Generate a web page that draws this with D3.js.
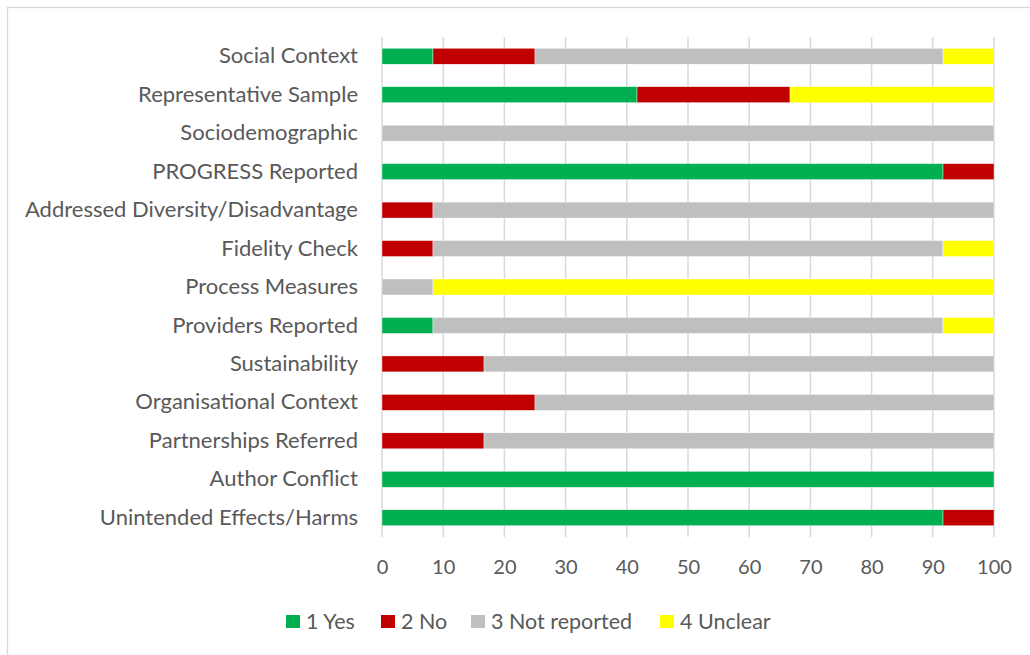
<!DOCTYPE html>
<html>
<head>
<meta charset="utf-8">
<script src="https://cdn.jsdelivr.net/npm/d3@7"></script>
<style>
  html, body { margin: 0; padding: 0; background: #fff; }
  svg { display: block; }
  text { font-family: Lato, "Open Sans", "Liberation Sans", sans-serif; fill: #595959; }
</style>
</head>
<body>
<svg id="chart" width="1030" height="655"></svg>
<script>
const categories = [
  "Social Context",
  "Representative Sample",
  "Sociodemographic",
  "PROGRESS Reported",
  "Addressed Diversity/Disadvantage",
  "Fidelity Check",
  "Process Measures",
  "Providers Reported",
  "Sustainability",
  "Organisational Context",
  "Partnerships Referred",
  "Author Conflict",
  "Unintended Effects/Harms"
];
const seriesNames = ["1 Yes", "2 No", "3 Not reported", "4 Unclear"];
const seriesColors = ["#00B050", "#C00000", "#BFBFBF", "#FFFF00"];
const yesValues         = [8.33, 41.67, 0, 91.67, 0, 0, 0, 8.33, 0, 0, 0, 100, 91.67];
const noValues          = [16.67, 25, 0, 8.33, 8.33, 8.33, 0, 0, 16.67, 25, 16.67, 0, 8.33];
const notReportedValues = [66.67, 0, 100, 0, 91.67, 83.33, 8.33, 83.33, 83.33, 75, 83.33, 0, 0];
const unclearValues     = [8.33, 33.33, 0, 0, 0, 8.33, 91.67, 8.33, 0, 0, 0, 0, 0];
const xTicks = [0, 10, 20, 30, 40, 50, 60, 70, 80, 90, 100];

const svg = d3.select("#chart");

// outer chart border
svg.append("rect")
  .attr("x", 7.5).attr("y", 7.5)
  .attr("width", 1040).attr("height", 660)
  .attr("fill", "#fff").attr("stroke", "#D9D9D9").attr("stroke-width", 1.3);

const plot = { left: 382, right: 994, top: 37, bottom: 537 };

const x = d3.scaleLinear().domain([0, 100]).range([plot.left, plot.right]);
const y = d3.scaleBand().domain(categories).range([plot.top, plot.bottom])
  .paddingInner(0.585).paddingOuter(0.2925);

// gridlines
svg.append("g").selectAll("line").data(xTicks).join("line")
  .attr("x1", d => x(d)).attr("x2", d => x(d))
  .attr("y1", plot.top).attr("y2", plot.bottom)
  .attr("stroke", "#D9D9D9").attr("stroke-width", 1.5);

// stacked data
const rows = categories.map((c, i) => ({
  cat: c,
  "1 Yes": yesValues[i],
  "2 No": noValues[i],
  "3 Not reported": notReportedValues[i],
  "4 Unclear": unclearValues[i]
}));
const stack = d3.stack().keys(seriesNames)(rows);
const color = d3.scaleOrdinal().domain(seriesNames).range(seriesColors);

svg.append("g").selectAll("g").data(stack).join("g")
  .attr("fill", d => color(d.key))
  .selectAll("rect").data(d => d.filter(s => s[1] - s[0] > 0)).join("rect")
  .attr("x", d => x(d[0]))
  .attr("width", d => x(d[1]) - x(d[0]))
  .attr("y", d => y(d.data.cat))
  .attr("height", y.bandwidth())
  .attr("stroke", "#fff").attr("stroke-width", 0.4);

// category labels (y axis)
const yAxis = d3.axisLeft(y).tickSize(0).tickPadding(24);
const gy = svg.append("g").attr("transform", `translate(${plot.left},0)`).call(yAxis);
gy.select(".domain").remove();
gy.selectAll("text")
  .attr("font-size", 22)
  .attr("font-family", "Lato, 'Open Sans', sans-serif")
  .attr("fill", "#595959");

// x axis labels
const xAxis = d3.axisBottom(x).tickValues(xTicks).tickSize(0).tickPadding(23);
const gx = svg.append("g").attr("transform", `translate(0,${plot.bottom})`).call(xAxis);
gx.select(".domain").remove();
gx.selectAll("text")
  .attr("font-size", 20)
  .attr("font-family", "Lato, 'Open Sans', sans-serif")
  .attr("fill", "#595959");

// legend
const legendX = [286, 381, 471, 660];
const legend = svg.append("g").selectAll("g").data(seriesNames).join("g")
  .attr("transform", (d, i) => `translate(${legendX[i]},615)`);
legend.append("rect").attr("width", 14).attr("height", 13).attr("fill", d => color(d));
legend.append("text")
  .attr("x", 20).attr("y", 6.5).attr("dy", "0.35em")
  .attr("font-size", 21.5)
  .text(d => d);
</script>
</body>
</html>
